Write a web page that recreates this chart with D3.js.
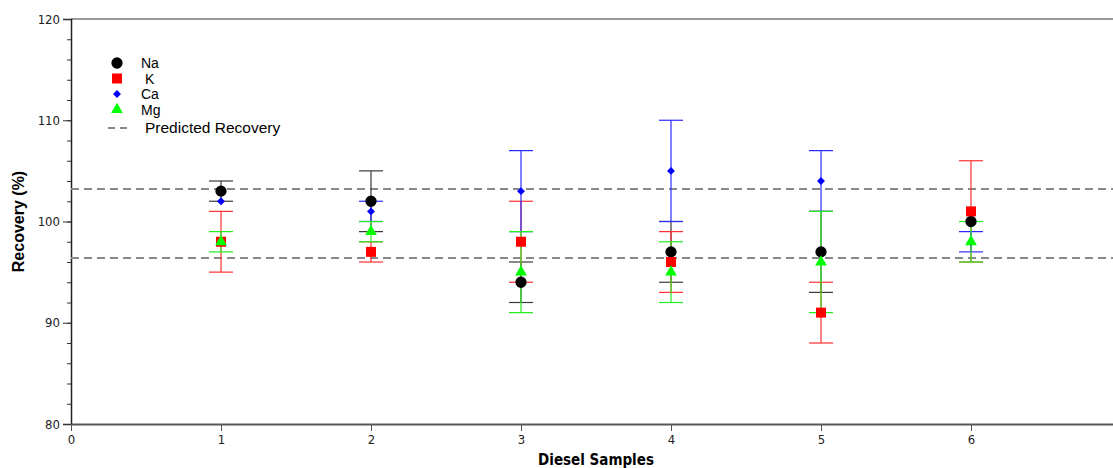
<!DOCTYPE html>
<html>
<head>
<meta charset="utf-8">
<script src="https://cdn.jsdelivr.net/npm/d3@7"></script>
<style>
  body { margin: 0; background: #fff; }
  svg { display: block; }
  .tick text { font-family: "Liberation Sans Narrow", "DejaVu Sans Condensed", sans-serif; font-size: 13px; fill: #222; }
</style>
</head>
<body>
<div class="chart__container"></div>
<script>
// samples on the x axis
const samples = [1, 2, 3, 4, 5, 6];

// recovery (%) and error per element
const naValues = [103, 102, 94, 97, 97, 100];
const naErrors = [1, 3, 2, 3, 4, 0];
const kValues = [98, 97, 98, 96, 91, 101];
const kErrors = [3, 1, 4, 3, 3, 5];
const caValues = [102, 101, 103, 105, 104, 98];
const caErrors = [0, 1, 4, 5, 3, 1];
const mgValues = [98, 99, 95, 95, 96, 98];
const mgErrors = [1, 1, 4, 3, 5, 2];

// predicted recovery band
const predicted = [103.2, 96.4];

const xTicks = [0, 1, 2, 3, 4, 5, 6];
const yTicks = [80, 90, 100, 110, 120];

const width = 1113, height = 468;
const margin = { top: 19, right: 0, bottom: 44, left: 71 };
const innerW = width - margin.left - margin.right;
const innerH = height - margin.top - margin.bottom;

const series = [
  { name: "Na", values: naValues, errors: naErrors, color: "#000", bar: "#3a3a3a", shape: d3.symbolCircle, size: 100 },
  { name: "K", values: kValues, errors: kErrors, color: "#f00", bar: "#ff3030", shape: d3.symbolSquare, size: 100 },
  { name: "Ca", values: caValues, errors: caErrors, color: "#00f", bar: "#2a2aff", shape: d3.symbolDiamond2, size: 40 },
  { name: "Mg", values: mgValues, errors: mgErrors, color: "#0f0", bar: "#22ee22", shape: d3.symbolTriangle, size: 60 }
];

const svg = d3.select(".chart__container")
  .append("svg")
  .attr("width", width)
  .attr("height", height);

const g = svg.append("g").attr("transform", `translate(${margin.left},${margin.top})`);

const xScale = d3.scaleLinear().domain([0, innerW / 150]).range([0, innerW]);
const yScale = d3.scaleLinear().domain([80, 120]).range([innerH, 0]);

// top frame line
g.append("line")
  .attr("x1", 0).attr("x2", innerW)
  .attr("y1", 0).attr("y2", 0)
  .attr("stroke", "#999").attr("stroke-width", 2);

// y axis: minor ticks every 2, labels every 10
g.append("g")
  .call(d3.axisLeft(yScale).tickValues(d3.range(80, 121, 2)).tickSize(4).tickFormat(""))
  .call(a => a.select(".domain").remove())
  .selectAll("line").attr("stroke", "#333");

g.append("g")
  .attr("class", "y-axis")
  .call(d3.axisLeft(yScale).tickValues(yTicks).tickSize(8).tickPadding(3))
  .call(a => a.select(".domain").attr("stroke", "#222").attr("stroke-width", 1.5))
  .call(a => a.selectAll(".tick line").attr("stroke", "#333"));

// x axis
g.append("g")
  .attr("class", "x-axis")
  .attr("transform", `translate(0,${innerH})`)
  .call(d3.axisBottom(xScale).tickValues(xTicks).tickFormat(d3.format("d")).tickSize(7).tickPadding(4).tickSizeOuter(0))
  .call(a => a.select(".domain").attr("stroke", "#555").attr("stroke-width", 2))
  .call(a => a.selectAll(".tick line").attr("stroke", "#555"));

// axis titles
svg.append("text")
  .attr("x", 596)
  .attr("y", 465)
  .attr("text-anchor", "middle")
  .style("font-family", "\"Liberation Sans Narrow\", \"DejaVu Sans Condensed\", sans-serif")
  .style("font-size", "15px")
  .style("font-weight", "bold")
  .text("Diesel Samples");

svg.append("text")
  .attr("transform", `translate(24,${margin.top + yScale(100)}) rotate(-90)`)
  .attr("text-anchor", "middle")
  .style("font-family", "\"Liberation Sans\", Arial, sans-serif")
  .style("font-size", "16px")
  .style("font-weight", "bold")
  .text("Recovery (%)");

// predicted recovery lines
g.selectAll(".pred")
  .data(predicted)
  .enter()
  .append("line")
  .attr("class", "pred")
  .attr("x1", 0).attr("x2", innerW)
  .attr("y1", d => yScale(d)).attr("y2", d => yScale(d))
  .attr("stroke", "#888")
  .attr("stroke-width", 2)
  .attr("stroke-dasharray", "8,5");

// error bars
const cap = 12;
series.forEach(s => {
  const bars = g.append("g")
    .selectAll("g")
    .data(samples.map((x, i) => ({ x, v: s.values[i], e: s.errors[i] })).filter(d => d.e > 0))
    .enter()
    .append("g")
    .attr("stroke", s.bar)
    .attr("stroke-width", 1.2);

  bars.append("line")
    .attr("x1", d => xScale(d.x)).attr("x2", d => xScale(d.x))
    .attr("y1", d => yScale(d.v - d.e)).attr("y2", d => yScale(d.v + d.e));
  bars.append("line")
    .attr("x1", d => xScale(d.x) - cap).attr("x2", d => xScale(d.x) + cap)
    .attr("y1", d => yScale(d.v + d.e)).attr("y2", d => yScale(d.v + d.e));
  bars.append("line")
    .attr("x1", d => xScale(d.x) - cap).attr("x2", d => xScale(d.x) + cap)
    .attr("y1", d => yScale(d.v - d.e)).attr("y2", d => yScale(d.v - d.e));
});

// markers
series.forEach(s => {
  g.append("g")
    .selectAll("path")
    .data(samples.map((x, i) => ({ x, v: s.values[i] })))
    .enter()
    .append("path")
    .attr("d", d3.symbol().type(s.shape).size(s.size))
    .attr("transform", d => `translate(${xScale(d.x)},${yScale(d.v)})`)
    .attr("fill", s.color);
});

// legend
const legend = svg.append("g").attr("transform", "translate(117,63)");
series.forEach((s, i) => {
  legend.append("path")
    .attr("d", d3.symbol().type(s.shape).size(s.size))
    .attr("transform", `translate(0,${i * 15.5})`)
    .attr("fill", s.color);
  legend.append("text")
    .attr("x", s.name === "K" ? 28 : 24)
    .attr("y", i * 15.5 + 5)
    .style("font-family", "\"Liberation Sans\", Arial, sans-serif")
    .style("font-size", "14px")
    .text(s.name);
});
legend.append("line")
  .attr("x1", -9).attr("x2", 10)
  .attr("y1", 65).attr("y2", 65)
  .attr("stroke", "#888")
  .attr("stroke-width", 2)
  .attr("stroke-dasharray", "7,5");
legend.append("text")
  .attr("x", 28)
  .attr("y", 70)
  .style("font-family", "\"Liberation Sans\", Arial, sans-serif")
  .style("font-size", "15.5px")
  .text("Predicted Recovery");
</script>
</body>
</html>
